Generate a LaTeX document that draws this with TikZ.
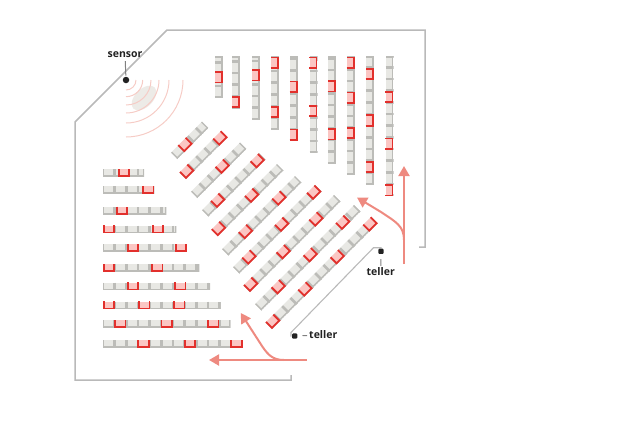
\documentclass[tikz,border=0pt]{standalone}
\usepackage{fontspec}
\setmainfont{Open Sans}
\usetikzlibrary{arrows.meta}
\definecolor{wallgray}{HTML}{B9B9B9}
\definecolor{seatlight}{HTML}{E8E8E4}
\definecolor{seatgray}{HTML}{BCBCB8}
\definecolor{redline}{HTML}{E2302C}
\definecolor{redfill}{HTML}{FBC6C3}
\definecolor{salmon}{HTML}{EE8A80}
\definecolor{arcpink}{HTML}{F6CCC6}
\definecolor{blob}{HTML}{EDEBE7}
\definecolor{ink}{HTML}{222222}
\tikzset{
  wall/.style={draw=wallgray,line width=1.5pt,line join=miter},
  corridor/.style={draw=wallgray,line width=1.1pt},
  flow/.style={draw=salmon,line width=2pt},
  flowhead/.style={-{Triangle[length=10pt,width=11pt]}},
  wave/.style={draw=arcpink,line width=1pt},
  labeltext/.style={font=\fontsize{10.5}{12}\selectfont\bfseries,text=ink,inner sep=0pt},
  sensordotstyle/.style={circle,fill=ink,inner sep=0pt,minimum size=6.5pt},
  tellerdotstyle/.style={rectangle,rounded corners=1pt,fill=ink,inner sep=0pt,minimum size=5.2pt},
  tick/.style={draw=gray,line width=1pt},
  cellline/.style={draw=seatgray,line width=2.6pt},
  baseline/.style={draw=seatgray,line width=1.6pt},
  redu/.style={draw=redline,line width=1.8pt,line join=miter},
}
% half-thickness, x y angle length list-of-centres expression-for-distance-from-start
\newcommand{\seatbar}[7]{%
  \begin{scope}[shift={(#2,#3)},rotate=#4]
    \fill[seatlight] (0,-#1) rectangle (#5,#1);
    \begin{scope}
      \clip (0,{-#1-0.2}) rectangle (#5,{#1+1});
      \foreach \i in {0,...,12}{\draw[cellline] ({\i*11.67},{0.1-#1}) -- ({\i*11.67},{#1+1});}
      \draw[baseline] (0,#1) -- (#5,#1);
      \draw[cellline] (#5,{-#1}) -- (#5,{#1+1});
    \end{scope}
    \foreach \c in {#6}{%
      \pgfmathsetmacro{\dd}{#7}
      \fill[redfill] ({\dd-5.2},-#1) rectangle ({\dd+5.2},#1);
      \draw[redu] ({\dd-5.2},{-#1-0.2}) -- ({\dd-5.2},#1) -- ({\dd+5.2},#1) -- ({\dd+5.2},{-#1-0.2});
    }
  \end{scope}}
\newcommand{\hrow}[3]{\seatbar{3.4}{103}{#1}{0}{{#2-103}}{#3}{\c-103}}
\newcommand{\vrow}[3]{\seatbar{3.5}{#1}{#2}{90}{{#2-56.7}}{#3}{#2-\c}}
\newcommand{\drow}[4]{\seatbar{4.1}{#2}{{#1-#2}}{45}{{(#3-#2)*1.4142}}{#4}{(\c-#2)*1.4142}}
\begin{document}
\begin{tikzpicture}[x=1pt,y=-1pt]
\useasboundingbox (0,0) rectangle (644,440);
% walls
\draw[wall] (419,247) -- (425,247) -- (425,30) -- (167,30) -- (75,122) -- (75,380) -- (291,380) -- (291,375);
% sensor waves
\fill[blob,rotate around={45:(144,98)}] (144,98) ellipse (15 and 9);
\foreach \r in {10,16.7,25,33,43,57}{\draw[wave] ({126+\r},80) arc[start angle=0,end angle=90,radius=\r];}
% horizontal rows
\hrow{172.7}{144}{123.8}
\hrow{189.7}{154.3}{148.2}
\hrow{210.3}{166.3}{122}
\hrow{229}{176.3}{109,157.8}
\hrow{247.7}{186.7}{133,180.8}
\hrow{267.7}{199.3}{109,157.2}
\hrow{286}{210}{133,180.3}
\hrow{305}{220.7}{109,144.2,179.3}
\hrow{323.7}{230.3}{120.2,166.7,213.3}
\hrow{343.7}{242.3}{143.5,190,236.5}
% vertical rows
\vrow{218.3}{97.7}{77.3}
\vrow{235.3}{108}{102}
\vrow{255.7}{119.3}{75.3}
\vrow{274.3}{129.3}{62.7,111.8}
\vrow{293.3}{140.7}{86.7,134.7}
\vrow{313}{152.7}{62.7,110.8}
\vrow{331.3}{163.3}{86.2,134.2}
\vrow{350.3}{174.3}{62.7,97.7,133}
\vrow{369.3}{184}{74,120.5,167}
\vrow{389}{195.7}{97,143.7,190.2}
% diagonal rows
\drow{329.5}{174}{205}{185}
\drow{358}{182.5}{224}{186.7,220}
\drow{388.5}{194}{243}{222.3}
\drow{418}{205}{262}{217.7,257.3}
\drow{447}{215}{280}{218.5,251.7}
\drow{477}{225}{298}{245.5,279}
\drow{506}{236}{318}{249,281.7,313.8}
\drow{535}{246.5}{337}{250.7,283.3,316}
\drow{565}{258}{357}{278.3,310.3,342.7}
\drow{594}{268.5}{374.2}{272.7,305,337.3,370}
% flows
\coordinate (flowAstart) at (404,264);
\coordinate (flowAtip) at (404,166);
\coordinate (flowAjoin) at (404,240);
\coordinate (flowAbranch) at (357,197.5);
\coordinate (flowBstart) at (306.7,360);
\coordinate (flowBtip) at (209,360);
\coordinate (flowBjoin) at (284,360);
\coordinate (flowBbranch) at (240.7,313);
\draw[flow,flowhead] (flowAstart) -- (flowAtip);
\draw[flow,flowhead] (flowAjoin) .. controls (404,226) and (396,222) .. (381,212) -- (flowAbranch);
\draw[flow,flowhead] (flowBstart) -- (flowBtip);
\draw[flow,flowhead] (flowBjoin) .. controls (273,360) and (268,355) .. (262,346) -- (flowBbranch);
% corridor
\coordinate (corrA) at (291,336.5);
\coordinate (corrB) at (291,332.5);
\coordinate (corrC) at (373.5,247.7);
\coordinate (corrD) at (381.5,247.7);
\draw[corridor] (corrA) -- (corrB) -- (corrC) -- (corrD);
% sensor and tellers
\node[sensordotstyle] (sensordot) at (126,80) {};
\node[labeltext] (sensorlabel) at (125,55) {sensor};
\draw[tick,shorten <=3pt,shorten >=1pt] (sensorlabel) -- (sensordot);
\node[tellerdotstyle] (tellerdotA) at (381,251.3) {};
\node[labeltext] (tellerlabelA) at (380.7,272) {teller};
\draw[tick,shorten <=5pt,shorten >=2pt] (tellerdotA) -- (tellerlabelA);
\node[tellerdotstyle] (tellerdotB) at (294.7,336) {};
\node[labeltext] (tellerlabelB) at (323.3,335) {teller};
\draw[tick,shorten <=5pt,shorten >=2pt] (tellerdotB) -- (tellerlabelB);
\end{tikzpicture}
\end{document}
